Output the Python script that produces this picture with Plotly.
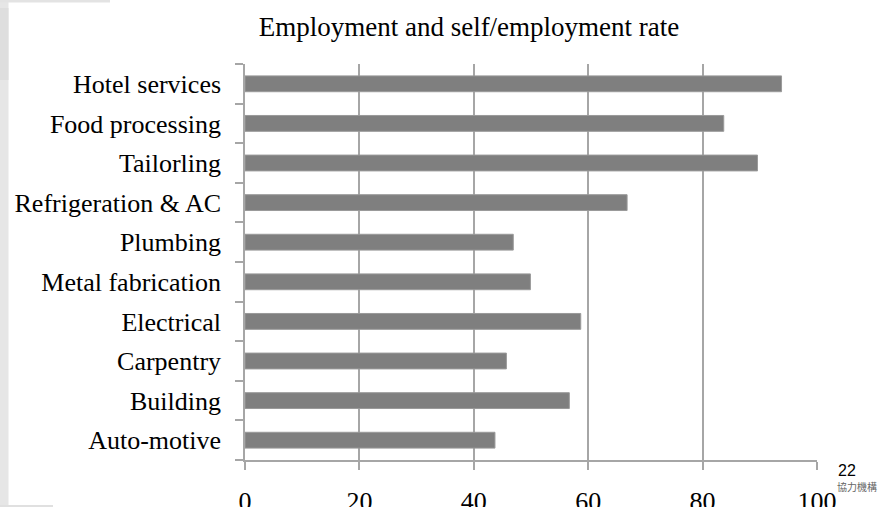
import plotly.graph_objects as go

categories = ["Auto-motive", "Building", "Carpentry", "Electrical", "Metal fabrication",
              "Plumbing", "Refrigeration & AC", "Tailorling", "Food processing", "Hotel services"]
values = [43.7, 56.7, 45.7, 58.7, 49.9, 46.9, 66.8, 89.6, 83.7, 93.8]
x_ticks = [0, 20, 40, 60, 80, 100]
title_text = "Employment and self/employment rate"

W, H = 882, 507
L, R, T, B = 245, 65, 64, 47
pw, ph = W - L - R, H - T - B


def px(x):
    return (x - L) / pw


def py(y):
    return 1 - (y - T) / ph


SERIF = "Liberation Serif, Times New Roman, serif"

fig = go.Figure(go.Bar(
    y=categories, x=values, orientation="h",
    marker=dict(color="#7f7f7f", line=dict(color="#9a9a9a", width=1)),
    width=0.4,
))

shapes = [
    dict(type="rect", xref="paper", yref="paper", x0=px(0), x1=px(8.5), y0=py(H), y1=py(0),
         fillcolor="#e6e6e6", line=dict(width=0), layer="below"),
    dict(type="rect", xref="paper", yref="paper", x0=px(0), x1=px(8.5), y0=py(80), y1=py(8),
         fillcolor="#dedede", line=dict(width=0), layer="below"),
    dict(type="rect", xref="paper", yref="paper", x0=px(0), x1=px(110), y0=py(2.5), y1=py(0),
         fillcolor="#e3e3e3", line=dict(width=0), layer="below"),
    dict(type="rect", xref="paper", yref="paper", x0=px(0), x1=px(53), y0=py(H), y1=py(505),
         fillcolor="#e0e0e0", line=dict(width=0), layer="below"),
]

fig.update_layout(
    width=W, height=H,
    margin=dict(l=L, r=R, t=T, b=B, pad=0, autoexpand=False),
    paper_bgcolor="white", plot_bgcolor="white",
    showlegend=False,
    bargap=0.6,
    font=dict(family=SERIF, size=26, color="black"),
    title=dict(text=title_text, xref="container", yref="container",
               x=469 / W, xanchor="center", y=1 - 27 / H, yanchor="middle",
               font=dict(family=SERIF, size=27, color="black")),
    xaxis=dict(range=[0, 100], tickvals=x_ticks, showgrid=True, gridcolor="#a6a6a6", gridwidth=1.5,
               showline=True, linecolor="#a6a6a6", linewidth=1.5,
               ticks="outside", ticklen=8, tickcolor="#a6a6a6", tickwidth=1.5,
               ticklabelstandoff=9, zeroline=False, automargin=False,
               tickfont=dict(family=SERIF, size=26, color="black")),
    yaxis=dict(categoryorder="array", categoryarray=categories,
               showline=True, linecolor="#a6a6a6", linewidth=1.5,
               ticks="outside", ticklen=8, tickcolor="#a6a6a6", tickwidth=1.5,
               tickson="boundaries", showgrid=False, ticklabelstandoff=17, automargin=False,
               tickfont=dict(family=SERIF, size=26, color="black")),
    shapes=shapes,
    annotations=[
        dict(text="22", xref="paper", yref="paper", x=px(847), y=py(470), xanchor="center",
             yanchor="middle", showarrow=False,
             font=dict(family="Liberation Sans, Arial, sans-serif", size=16, color="black")),
        dict(text="協力機構", xref="paper", yref="paper", x=px(879), y=py(486), xanchor="right",
             yanchor="middle", showarrow=False,
             font=dict(family="Noto Sans CJK TC, sans-serif", size=10, color="#666666")),
    ],
)

fig.write_html("out.html")
